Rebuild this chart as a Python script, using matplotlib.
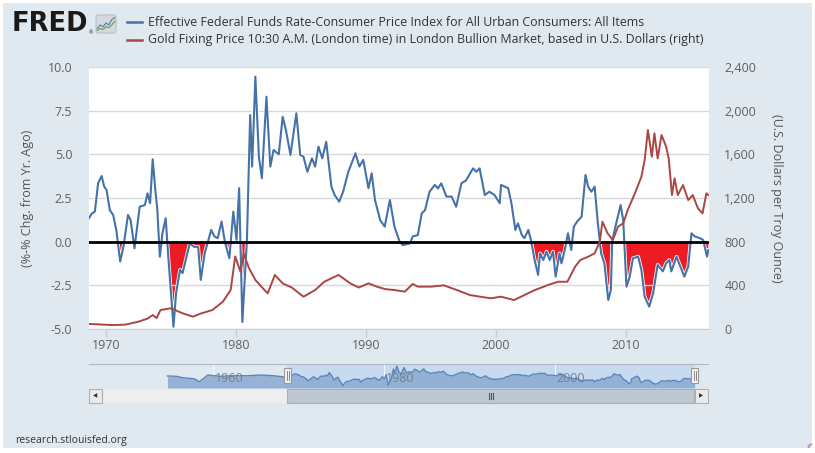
import matplotlib.pyplot as plt
import matplotlib.patheffects as pe
import numpy as np
from matplotlib.lines import Line2D
from matplotlib.patches import Rectangle, FancyBboxPatch

# real rate: effective fed funds minus CPI yoy (left axis)
rr_years = [1968.70, 1968.90, 1969.15, 1969.40, 1969.67, 1969.87, 1970.05, 1970.30, 1970.56, 1970.80,
            1971.10, 1971.35, 1971.70, 1971.90, 1972.20, 1972.60, 1973.00, 1973.20, 1973.40, 1973.60,
            1973.80, 1973.95, 1974.15, 1974.35, 1974.60, 1974.80, 1975.20, 1975.40, 1975.70, 1975.90,
            1976.20, 1976.45, 1976.80, 1977.10, 1977.30, 1977.60, 1977.85, 1978.10, 1978.35, 1978.60,
            1978.90, 1979.15, 1979.50, 1979.80, 1980.05, 1980.25, 1980.50, 1980.85, 1981.10, 1981.25,
            1981.50, 1981.77, 1982.00, 1982.35, 1982.65, 1982.90, 1983.30, 1983.60, 1983.85, 1984.20,
            1984.65, 1984.95, 1985.20, 1985.50, 1985.85, 1986.10, 1986.35, 1986.65, 1986.95, 1987.35,
            1987.60, 1987.95, 1988.25, 1988.65, 1989.20, 1989.50, 1989.80, 1990.20, 1990.45, 1990.70,
            1991.10, 1991.45, 1991.85, 1992.20, 1992.60, 1992.85, 1993.40, 1993.60, 1994.00, 1994.30,
            1994.55, 1994.90, 1995.30, 1995.55, 1995.80, 1996.20, 1996.60, 1996.95, 1997.35, 1997.70,
            1998.25, 1998.50, 1998.75, 1999.15, 1999.50, 1999.90, 2000.30, 2000.40, 2000.95, 2001.20,
            2001.50, 2001.70, 2002.00, 2002.20, 2002.50, 2002.70, 2003.00, 2003.25, 2003.40, 2003.65,
            2003.90, 2004.15, 2004.40, 2004.60, 2004.90, 2005.05, 2005.30, 2005.55, 2005.80, 2006.00,
            2006.25, 2006.60, 2006.90, 2007.10, 2007.35, 2007.60, 2007.85, 2008.10, 2008.35, 2008.65,
            2008.85, 2008.95, 2009.20, 2009.60, 2009.80, 2010.05, 2010.30, 2010.55, 2010.95, 2011.20,
            2011.45, 2011.80, 2012.10, 2012.45, 2012.85, 2013.10, 2013.35, 2013.50, 2013.90, 2014.15,
            2014.50, 2014.80, 2015.05, 2015.30, 2015.70, 2015.95, 2016.25, 2016.35]
rr_values = [1.34, 1.60, 1.72, 3.34, 3.76, 3.15, 2.96, 1.81, 1.53, 0.67,
             -1.14, -0.29, 1.53, 1.24, -0.38, 2.00, 2.10, 2.77, 2.20, 4.72,
             2.96, 1.91, -0.86, 0.48, 1.34, -0.86, -4.87, -2.95, -1.62, -1.80,
             -0.86, -0.10, -0.30, -0.29, -2.19, -0.67, 0.00, 0.67, 0.30, 0.20,
             1.15, 0.00, -0.95, 1.72, 0.10, 3.06, -4.60, 0.10, 7.25, 4.30,
             9.45, 4.87, 3.63, 8.30, 4.30, 5.25, 5.00, 7.15, 6.39, 4.96,
             7.35, 4.96, 4.87, 4.00, 4.77, 4.30, 5.44, 4.77, 5.72, 3.15,
             2.67, 2.29, 2.86, 4.00, 5.06, 4.30, 4.68, 3.06, 3.91, 2.39,
             1.24, 0.86, 2.39, 0.86, 0.00, -0.20, -0.10, 0.30, 0.38, 1.62,
             1.80, 2.86, 3.25, 3.05, 3.34, 2.58, 2.58, 2.00, 3.34, 3.50,
             4.20, 4.00, 4.20, 2.67, 2.86, 2.67, 2.20, 3.25, 3.06, 2.20,
             0.67, 1.05, 0.38, 0.20, 0.67, 0.10, -1.10, -1.90, -0.67, -1.05,
             -0.57, -1.05, -0.57, -2.00, -0.67, -1.24, -0.48, 0.48, -0.48, 0.86,
             1.15, 1.43, 3.82, 3.15, 2.86, 3.15, 1.05, -0.67, -1.24, -3.34,
             -2.77, 0.00, 0.86, 2.10, 1.24, -2.58, -2.00, -0.95, -0.86, -1.62,
             -3.15, -3.72, -2.96, -1.33, -1.70, -1.24, -1.05, -1.70, -0.86, -1.33,
             -2.00, -1.43, 0.48, 0.30, 0.20, 0.10, -0.86, -0.48]

# gold fixing price, USD per troy ounce (right axis)
gold_years = [1968.7, 1969.5, 1970.5, 1971.5, 1972.5, 1973.2, 1973.6, 1973.9, 1974.2, 1975.0,
              1975.9, 1976.7, 1977.3, 1978.2, 1979.0, 1979.6, 1979.95, 1980.35, 1980.6, 1981.0,
              1981.5, 1982.2, 1982.45, 1983.0, 1983.6, 1984.3, 1985.2, 1986.1, 1986.8, 1987.9,
              1988.8, 1989.45, 1990.2, 1990.85, 1991.5, 1992.2, 1993.0, 1993.6, 1994.0, 1995.0,
              1996.0, 1997.0, 1998.0, 1999.6, 2000.4, 2001.4, 2002.2, 2003.0, 2003.7, 2004.0,
              2004.8, 2005.5, 2006.1, 2006.5, 2007.1, 2007.6, 2008.0, 2008.2, 2008.6, 2009.0,
              2009.4, 2009.8, 2010.15, 2010.7, 2011.2, 2011.45, 2011.7, 2012.0, 2012.2, 2012.45,
              2012.75, 2013.1, 2013.3, 2013.55, 2013.75, 2014.0, 2014.4, 2014.8, 2015.15, 2015.55,
              2015.9, 2016.2, 2016.35]
gold_values = [46, 42, 36, 40, 67, 95, 128, 100, 174, 190,
               144, 113, 142, 174, 250, 357, 665, 525, 690, 560,
               449, 357, 327, 495, 418, 380, 296, 357, 433, 495,
               418, 380, 418, 388, 365, 357, 342, 412, 388, 388,
               400, 357, 311, 281, 296, 265, 311, 357, 388, 403,
               433, 433, 571, 632, 662, 693, 800, 983, 876, 815,
               937, 968, 1090, 1243, 1395, 1548, 1823, 1578, 1792, 1563,
               1777, 1670, 1563, 1227, 1380, 1227, 1319, 1181, 1227, 1105,
               1059, 1243, 1227]

# navigator shows the real rate back to 1954
early_years = [1954.67, 1955.7, 1956.5, 1957.3, 1957.9, 1958.4, 1958.9, 1959.4, 1960.8, 1962.4,
               1964.0, 1965.6, 1967.1, 1968.3]
early_values = [2.2, 2.0, 0.9, 0.5, 0.0, -2.0, 0.5, 2.9, 2.0, 2.4,
                2.4, 2.9, 2.4, 1.5]

# little FRED logo chart
icon_x = [0, 1, 2, 3, 4, 5, 6]
icon_blue = [2, 4, 3, 5, 4, 7, 8]
icon_green = [1, 2, 1.5, 3, 2.5, 4, 6]

W, H = 815, 453
BG = '#e1e9f0'
BLUE = '#4572a7'
RED = '#aa4643'
TXT = '#333333'
TICK = '#606060'

plt.rcParams['font.family'] = ['Open Sans', 'DejaVu Sans']


def fx(x):
    return x / W


def fy(y):
    return 1 - y / H


def box(x0, y0, x1, y1):
    return [fx(x0), fy(y1), fx(x1) - fx(x0), fy(y0) - fy(y1)]


def frect(x0, y0, x1, y1, **kw):
    r = Rectangle((fx(x0), fy(y1)), fx(x1) - fx(x0), fy(y0) - fy(y1),
                  transform=fig.transFigure, **kw)
    fig.add_artist(r)
    return r


def fline(xs, ys, **kw):
    fig.add_artist(Line2D([fx(v) for v in xs], [fy(v) for v in ys],
                          transform=fig.transFigure, **kw))


fig = plt.figure(figsize=(W / 100, H / 100), dpi=100, facecolor='white')
frect(3, 3, 812, 448, facecolor=BG, edgecolor='none', zorder=-10)

# header
fig.text(fx(12), fy(24), 'FRED', family='DejaVu Sans', fontweight='bold',
         fontsize=18.5, color='#1a1a1a', va='center', ha='left')
fig.text(fx(89), fy(33), '®', fontsize=4, color='#1a1a1a', va='center')
icon = fig.add_axes(box(95, 14, 117, 34))
icon.set_axis_off()
icon.add_patch(FancyBboxPatch((0.05, 0.05), 0.9, 0.9, boxstyle='round,pad=0,rounding_size=0.12',
                              transform=icon.transAxes, facecolor='#d5d9dd', edgecolor='#c0c4c8'))
icon.plot(icon_x, icon_blue, color='#5b86bb', lw=0.9)
icon.plot(icon_x, icon_green, color='#6aa84f', lw=0.9)
icon.set_xlim(-0.8, 6.8)
icon.set_ylim(-1, 10)

fline([127, 142], [22, 22], color=BLUE, lw=1.8)
fline([127, 142], [40, 40], color=RED, lw=1.8)
fig.text(fx(148), fy(22), 'Effective Federal Funds Rate-Consumer Price Index for All Urban Consumers: All Items',
         fontsize=8.9, color=TXT, va='center', ha='left')
fig.text(fx(148), fy(40), 'Gold Fixing Price 10:30 A.M. (London time) in London Bullion Market, based in U.S. Dollars (right)',
         fontsize=8.9, color=TXT, va='center', ha='left')

# main chart
ax = fig.add_axes(box(89, 67, 709, 329))
ax.set_facecolor('white')
rr_x = np.array(rr_years)
rr_y = np.array(rr_values)
ax.fill_between(rr_x, rr_y, 0, where=rr_y < 0, interpolate=True,
                color='#ed1c24', lw=0, zorder=1)
ax.plot(rr_x, rr_y, color=BLUE, lw=1.5, zorder=3,
        path_effects=[pe.Stroke(linewidth=2.6, foreground='white'), pe.Normal()])
ax.axhline(0, color='black', lw=2, zorder=4)
ax.set_xlim(1968.7, 2016.4)
ax.set_ylim(-5, 10)
ax.set_yticks(np.arange(-5, 10.01, 2.5))
ax.set_yticklabels([f'{v:.1f}' for v in np.arange(-5, 10.01, 2.5)])
ax.set_xticks([1970, 1980, 1990, 2000, 2010])
ax.yaxis.grid(True, color='#d8d8d8', lw=1)
ax.set_axisbelow('line')
for s in ['left', 'right', 'top']:
    ax.spines[s].set_visible(False)
ax.spines['bottom'].set_color('#c0d0e0')
ax.tick_params(axis='y', length=0, pad=12, labelsize=9, labelcolor=TICK)
ax.tick_params(axis='x', length=6, width=1, color='#c0d0e0', pad=1.5, labelsize=9, labelcolor=TICK)

ax2 = ax.twinx()
ax2.plot(gold_years, gold_values, color=RED, lw=1.4)
ax2.set_ylim(0, 2400)
ax2.set_yticks(np.arange(0, 2401, 400))
ax2.set_yticklabels([f'{v:,}' for v in range(0, 2401, 400)])
for s in ax2.spines.values():
    s.set_visible(False)
ax2.tick_params(axis='y', length=0, pad=11, labelsize=9, labelcolor=TICK)

fig.text(fx(28), fy(198), '(%-% Chg. from Yr. Ago)', rotation=90, fontsize=9,
         color='#555555', va='center', ha='center')
fig.text(fx(777), fy(198), '(U.S. Dollars per Troy Ounce)', rotation=270, fontsize=9,
         color='#555555', va='center', ha='center')

# navigator
nav = fig.add_axes(box(89, 364, 708, 388))
nav.set_facecolor('none')
nav_x = early_years + rr_years
nav_y = early_values + rr_values
nav.axvspan(1968.7, 2016.35, color='#c7daf0', lw=0, zorder=0)
for yr in [1960, 1980, 2000]:
    nav.axvline(yr, color='#f4f7fb', lw=0.8, zorder=0.5)
nav.fill_between(nav_x, nav_y, -6.5, color='#8eacd2', alpha=0.9, lw=0, zorder=1)
nav.plot(nav_x, nav_y, color='#5b86bb', lw=1, zorder=2)
for yr in [1960, 1980, 2000]:
    nav.text(yr + 0.2, 0.3, str(yr), fontsize=9, color='#6e7a87', alpha=0.9,
             va='center', ha='left', zorder=3)
nav.set_xlim(1945.5, 2017.9)
nav.set_ylim(-6.5, 10.9)
nav.set_xticks([])
nav.set_yticks([])
for s in ['left', 'right', 'bottom']:
    nav.spines[s].set_visible(False)
nav.spines['top'].set_color('#b0b8c0')

# scrollbar
frect(89, 389, 708, 403, facecolor='#eeeeee', edgecolor='none', zorder=1)
frect(287, 389, 694, 403, facecolor='#bfc8d1', edgecolor='#a8b0b8', lw=0.8, zorder=2)
for gx in [489, 491, 493]:
    fline([gx, gx], [393, 399], color='#555555', lw=0.8, zorder=3)
frect(89, 389, 102, 403, facecolor='#ebebeb', edgecolor='#b0b0b0', lw=0.8, zorder=2)
frect(695, 389, 708, 403, facecolor='#ebebeb', edgecolor='#b0b0b0', lw=0.8, zorder=2)
fig.text(fx(95.5), fy(396), '◀', family='DejaVu Sans', fontsize=4, color='#333333', va='center', ha='center')
fig.text(fx(701.5), fy(396), '▶', family='DejaVu Sans', fontsize=4, color='#333333', va='center', ha='center')
for hx in [287.5, 694.5]:
    frect(hx - 3.5, 368, hx + 3.5, 383, facecolor='#f2f2f2', edgecolor='#999999', lw=0.8, zorder=4)
    fline([hx - 1, hx - 1], [371, 380], color='#777777', lw=0.6, zorder=5)
    fline([hx + 1, hx + 1], [371, 380], color='#777777', lw=0.6, zorder=5)

fig.text(fx(15), fy(440), 'research.stlouisfed.org', fontsize=7.5, color=TXT, va='center', ha='left')
for d in [0, 2, 4]:
    fline([812 - d, 808], [444, 448 - d], color='#e040c0', lw=0.6)

fig.savefig('out.png', dpi=100, facecolor='white')
